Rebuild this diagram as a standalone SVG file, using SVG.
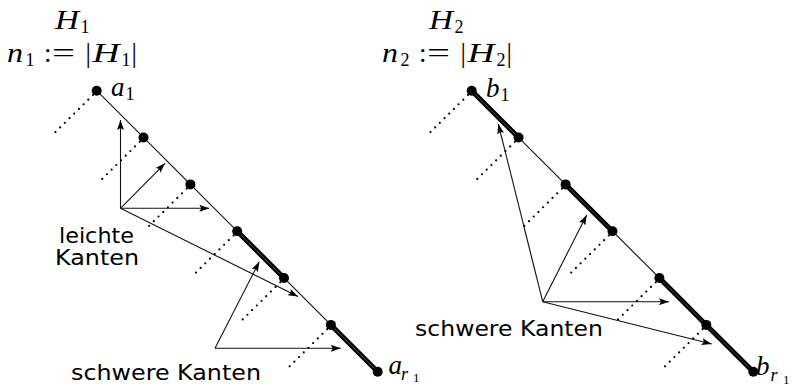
<svg xmlns="http://www.w3.org/2000/svg" width="797" height="386" viewBox="0 0 797 386">
<style>
.thin{stroke:#111;stroke-width:1.1;fill:none}
.heavy{stroke:#000;stroke-width:5;stroke-linecap:round;fill:none}
.heavyc{stroke:#555;stroke-width:0.8;fill:none}
.dot{stroke:#000;stroke-width:2.2;stroke-linecap:round;stroke-dasharray:0 6.6;fill:none}
.arr{stroke:#111;stroke-width:1.1;fill:none;marker-end:url(#ah)}
.m{font-family:"Liberation Serif","DejaVu Serif",serif;font-size:27px;fill:#000}
.mi{font-family:"Liberation Serif","DejaVu Serif",serif;font-size:27px;font-style:italic;fill:#000}
.s{font-family:"Liberation Serif","DejaVu Serif",serif;font-size:18px;fill:#000}
.si{font-family:"Liberation Serif","DejaVu Serif",serif;font-size:18px;font-style:italic;fill:#000}
.ss{font-family:"Liberation Serif","DejaVu Serif",serif;font-size:13px;fill:#000}
.t{font-family:"DejaVu Sans","Liberation Sans",sans-serif;font-size:22px;fill:#000}
.n{fill:#000}
</style>
<defs>
<marker id="ah" viewBox="0 0 10 7" refX="10" refY="3.5" markerWidth="10" markerHeight="7" orient="auto" markerUnits="userSpaceOnUse">
<path d="M0,0 L10,3.5 L0,7 L2,3.5 z" fill="#000"/>
</marker>
</defs>

<g id="labels">
<text class="mi" x="55" y="28.5" textLength="24" lengthAdjust="spacingAndGlyphs">H</text><text class="s" x="80.5" y="32.5">1</text>
<text class="mi" x="7" y="62" textLength="16" lengthAdjust="spacingAndGlyphs">n</text><text class="s" x="25.5" y="66">1</text>
<text class="m" x="44" y="62">:</text><text class="m" x="52" y="62" textLength="23" lengthAdjust="spacingAndGlyphs">=</text>
<text class="m" x="85.5" y="62">|</text><text class="mi" x="92.5" y="62" textLength="27" lengthAdjust="spacingAndGlyphs">H</text><text class="s" x="121.5" y="66">1</text><text class="m" x="131.5" y="62">|</text>

<text class="mi" x="429" y="28.5" textLength="24" lengthAdjust="spacingAndGlyphs">H</text><text class="s" x="454.5" y="32.5">2</text>
<text class="mi" x="382" y="62" textLength="16" lengthAdjust="spacingAndGlyphs">n</text><text class="s" x="400.5" y="66">2</text>
<text class="m" x="419" y="62">:</text><text class="m" x="427" y="62" textLength="23" lengthAdjust="spacingAndGlyphs">=</text>
<text class="m" x="460.5" y="62">|</text><text class="mi" x="467.5" y="62" textLength="27" lengthAdjust="spacingAndGlyphs">H</text><text class="s" x="496.5" y="66">2</text><text class="m" x="506.5" y="62">|</text>

<text class="t" x="59" y="242.5" textLength="75" lengthAdjust="spacingAndGlyphs">leichte</text>
<text class="t" x="55" y="265" textLength="84" lengthAdjust="spacingAndGlyphs">Kanten</text>
<text class="t" x="71" y="380" textLength="190" lengthAdjust="spacingAndGlyphs">schwere Kanten</text>
<text class="t" x="415" y="336" textLength="188" lengthAdjust="spacingAndGlyphs">schwere Kanten</text>
</g>

<g id="connectors">
<line class="thin" x1="96.7" y1="90.7" x2="377.7" y2="371.7"/>
<line class="thin" x1="471.7" y1="90.7" x2="753.3" y2="371.7"/>
<g id="heavy-edges">
<line class="heavy" x1="237.2" y1="231.2" x2="284" y2="278"/>
<line class="heavy" x1="330.9" y1="324.9" x2="377.7" y2="371.7"/>
<line class="heavy" x1="471.7" y1="90.7" x2="518.6" y2="137.5"/>
<line class="heavy" x1="565.6" y1="184.4" x2="612.5" y2="231.2"/>
<line class="heavy" x1="659.4" y1="278" x2="706.3" y2="324.9"/>
<line class="heavy" x1="706.3" y1="324.9" x2="753.3" y2="371.7"/>
<line class="heavyc" x1="237.2" y1="231.2" x2="284" y2="278"/>
<line class="heavyc" x1="330.9" y1="324.9" x2="377.7" y2="371.7"/>
<line class="heavyc" x1="471.7" y1="90.7" x2="518.6" y2="137.5"/>
<line class="heavyc" x1="565.6" y1="184.4" x2="612.5" y2="231.2"/>
<line class="heavyc" x1="659.4" y1="278" x2="753.3" y2="371.7"/>
</g>
<g id="stubs">
<line class="dot" x1="93" y1="95" x2="53" y2="134.5"/>
<line class="dot" x1="139.8" y1="141.8" x2="99.8" y2="181.3"/>
<line class="dot" x1="186.7" y1="188.7" x2="146.7" y2="228.2"/>
<line class="dot" x1="233.5" y1="235.5" x2="193.5" y2="275"/>
<line class="dot" x1="280.3" y1="282.3" x2="240.3" y2="321.8"/>
<line class="dot" x1="327.2" y1="329.2" x2="287.2" y2="368.7"/>
<line class="dot" x1="468" y1="95" x2="428" y2="134.5"/>
<line class="dot" x1="514.9" y1="141.8" x2="474.9" y2="181.3"/>
<line class="dot" x1="561.9" y1="188.7" x2="521.9" y2="228.2"/>
<line class="dot" x1="608.8" y1="235.5" x2="568.8" y2="275"/>
<line class="dot" x1="655.7" y1="282.3" x2="615.7" y2="321.8"/>
<line class="dot" x1="702.6" y1="329.2" x2="662.6" y2="368.7"/>
</g>
<g id="arrows">
<line class="arr" x1="120.5" y1="208.3" x2="120.5" y2="120"/>
<line class="arr" x1="120.5" y1="208.3" x2="165" y2="163.3"/>
<line class="arr" x1="120.5" y1="208.3" x2="209.3" y2="208.3"/>
<line class="arr" x1="120.5" y1="208.3" x2="298" y2="296.5"/>
<line class="arr" x1="215" y1="348.3" x2="259.3" y2="261.7"/>
<line class="arr" x1="215" y1="348.3" x2="340.7" y2="348.3"/>
<line class="arr" x1="542.7" y1="301.7" x2="498.3" y2="124"/>
<line class="arr" x1="542.7" y1="301.7" x2="586.7" y2="215"/>
<line class="arr" x1="542.7" y1="301.7" x2="669" y2="301.7"/>
<line class="arr" x1="542.7" y1="301.7" x2="711.7" y2="344"/>
</g>
</g>

<g id="a1"><circle class="n" cx="96.7" cy="90.7" r="5"/><text class="mi" x="111" y="95.5">a</text><text class="s" x="125.5" y="100">1</text></g>
<g id="a2"><circle class="n" cx="143.5" cy="137.5" r="5"/></g>
<g id="a3"><circle class="n" cx="190.4" cy="184.4" r="5"/></g>
<g id="a4"><circle class="n" cx="237.2" cy="231.2" r="5"/></g>
<g id="a5"><circle class="n" cx="284" cy="278" r="5"/></g>
<g id="a6"><circle class="n" cx="330.9" cy="324.9" r="5"/></g>
<g id="ar1"><circle class="n" cx="377.7" cy="371.7" r="5"/><text class="mi" x="388.5" y="373.5">a</text><text class="si" x="401" y="379.5">r</text><text class="ss" x="413" y="382">1</text></g>

<g id="b1"><circle class="n" cx="471.7" cy="90.7" r="5"/><text class="mi" x="486" y="97">b</text><text class="s" x="500.5" y="101">1</text></g>
<g id="b2"><circle class="n" cx="518.6" cy="137.5" r="5"/></g>
<g id="b3"><circle class="n" cx="565.6" cy="184.4" r="5"/></g>
<g id="b4"><circle class="n" cx="612.5" cy="231.2" r="5"/></g>
<g id="b5"><circle class="n" cx="659.4" cy="278" r="5"/></g>
<g id="b6"><circle class="n" cx="706.3" cy="324.9" r="5"/></g>
<g id="br1"><circle class="n" cx="753.3" cy="371.7" r="5"/><text class="mi" x="756" y="375">b</text><text class="si" x="770.5" y="381">r</text><text class="ss" x="783" y="383.5">1</text></g>
</svg>
